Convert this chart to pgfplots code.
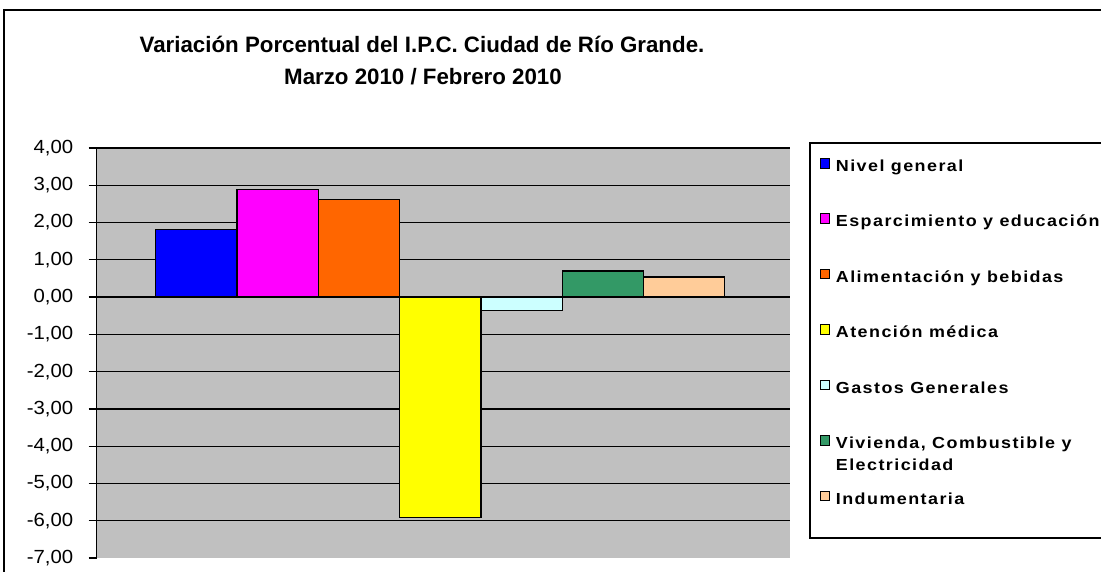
\documentclass[border=0pt]{standalone}
\usepackage{pgfplots}
\pgfplotsset{compat=1.18}
\usepackage{fontspec}
\setmainfont{Liberation Sans}
\newfontfamily\legfont[LetterSpace=9, FakeStretch=1.12]{Liberation Sans Bold}
\newfontfamily\tickfont[FakeStretch=1.07]{Liberation Sans}
\definecolor{plotgray}{HTML}{C0C0C0}
\definecolor{c1}{HTML}{0000FF}
\definecolor{c2}{HTML}{FF00FF}
\definecolor{c3}{HTML}{FF6600}
\definecolor{c4}{HTML}{FFFF00}
\definecolor{c5}{HTML}{CCFFFF}
\definecolor{c6}{HTML}{339966}
\definecolor{c7}{HTML}{FFCC99}
\pgfplotsset{
  mybar/.style={ybar, bar width=1, bar shift=0pt, fill=#1, draw=black, line width=1.2pt,
    legend image code/.code={\draw[fill=#1, draw=black, line width=0.9pt] (0pt,-0.5pt) rectangle (9.5pt,9pt);}},
}
\begin{document}
\begin{tikzpicture}
\clip (0,0) rectangle (1101pt,571pt);
\draw[line width=2pt] (4pt,-20pt) rectangle (1130pt,561pt);
\draw[line width=1.5pt] (810pt,33pt) rectangle (1130pt,428pt);
\node[anchor=base, font=\fontsize{22.3}{26}\selectfont\bfseries] at (422pt,518pt) {Variación Porcentual del I.P.C. Ciudad de Río Grande.};
\node[anchor=base, font=\fontsize{22.3}{26}\selectfont\bfseries] at (423pt,486pt) {Marzo 2010 / Febrero 2010};
\begin{axis}[
  at={(96.7pt,13pt)}, anchor=south west, scale only axis,
  width=693.3pt, height=410pt,
  xmin=-1.226, xmax=7.302, ymin=-7, ymax=4,
  xtick=\empty,
  ytick={-6,-5,...,4},
  extra y ticks={-7},
  extra y tick style={grid=none},
  axis y line*=left, axis x line=none,
  y axis line style={line width=1.5pt, black},
  axis background/.style={fill=plotgray},
  ymajorgrids,
  major grid style={black, line width=1.3pt},
  tick align=outside, major tick length=8pt,
  tick style={black, line width=1.2pt},
  yticklabel style={font=\fontsize{19}{19}\tickfont, xshift=-12pt},
  /pgf/number format/.cd, fixed, fixed zerofill, precision=2, use comma, assume math mode=true,
  /pgfplots/.cd,
  legend cell align=left,
  legend style={at={(axis description cs:1.0426,0.9755)}, anchor=north west,
    draw=none, fill=none, inner sep=0pt, outer sep=0pt, row sep=39pt,
    font=\fontsize{16}{21.5}\legfont,
    nodes={inner sep=0pt, text height=11pt, text depth=3pt},
    /tikz/every odd column/.append style={column sep=6pt}},
]
\addplot[mybar=c1] coordinates {(0,1.82)};
\addlegendentry{Nivel general}
\addplot[mybar=c2] coordinates {(1,2.88)};
\addlegendentry{Esparcimiento y educación}
\addplot[mybar=c3] coordinates {(2,2.61)};
\addlegendentry{Alimentación y bebidas}
\addplot[mybar=c4] coordinates {(3,-5.92)};
\addlegendentry{Atención médica}
\addplot[mybar=c5] coordinates {(4,-0.37)};
\addlegendentry{Gastos Generales}
\addplot[mybar=c6] coordinates {(5,0.70)};
\addlegendentry{\parbox[t]{260pt}{Vivienda, Combustible y\\Electricidad}}
\addplot[mybar=c7] coordinates {(6,0.54)};
\addlegendentry{Indumentaria}
\end{axis}
\end{tikzpicture}
\end{document}
